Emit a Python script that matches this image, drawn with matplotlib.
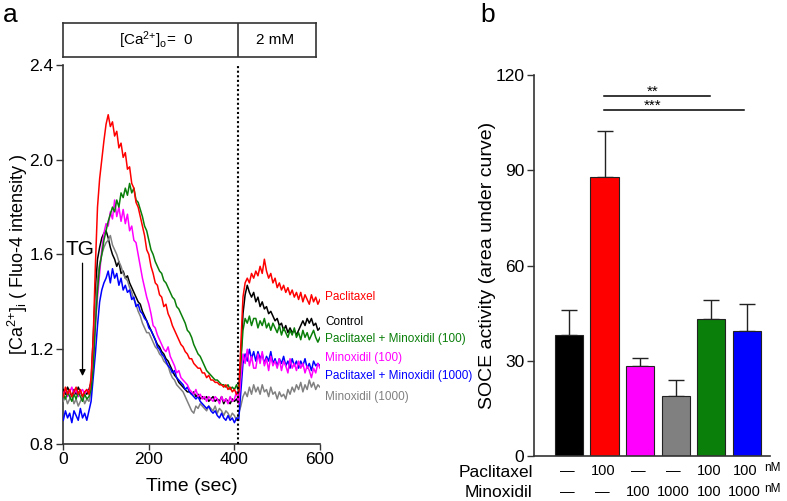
import numpy as np
import matplotlib
matplotlib.use("Agg")
import matplotlib.pyplot as plt
from matplotlib.transforms import blended_transform_factory

plt.rcParams['font.family'] = ['Liberation Sans', 'DejaVu Sans']
plt.rcParams['mathtext.fontset'] = 'custom'
plt.rcParams['mathtext.rm'] = 'Liberation Sans'
plt.rcParams['mathtext.it'] = 'Liberation Sans:italic'

# ---------------- Panel a data (time in sec, 5 s steps) ----------------
time_sec = np.arange(0, 601, 5)

paclitaxel = [
    1.00, 1.04, 1.01, 1.03, 1.00, 1.02, 1.04, 1.01, 1.03, 1.00,
    1.02, 1.03, 1.01, 1.08, 1.25, 1.55, 1.80, 1.92, 2.00, 2.08,
    2.15, 2.19, 2.14, 2.16, 2.10, 2.12, 2.05, 2.07, 2.01, 2.03,
    1.96, 1.97, 1.90, 1.88, 1.82, 1.80, 1.76, 1.72, 1.68, 1.62,
    1.60, 1.55, 1.52, 1.48, 1.47, 1.43, 1.42, 1.38, 1.39, 1.35,
    1.33, 1.30, 1.28, 1.26, 1.24, 1.22, 1.21, 1.19, 1.18, 1.16,
    1.16, 1.14, 1.13, 1.12, 1.12, 1.10, 1.10, 1.08, 1.09, 1.07,
    1.07, 1.06, 1.06, 1.05, 1.05, 1.04, 1.05, 1.03, 1.04, 1.02,
    1.03, 1.01, 1.02, 1.22, 1.42, 1.48, 1.50, 1.48, 1.52, 1.50,
    1.53, 1.51, 1.55, 1.52, 1.58, 1.53, 1.50, 1.52, 1.48, 1.50,
    1.46, 1.48, 1.45, 1.47, 1.44, 1.46, 1.43, 1.45, 1.42, 1.44,
    1.41, 1.44, 1.40, 1.43, 1.41, 1.39, 1.43, 1.40, 1.42, 1.39,
    1.41]

pac_minox100 = [
    1.01, 0.99, 1.02, 1.00, 0.98, 1.01, 0.99, 1.02, 1.00, 0.98,
    1.01, 0.99, 1.00, 1.03, 1.12, 1.30, 1.45, 1.55, 1.60, 1.66,
    1.70, 1.74, 1.77, 1.80, 1.78, 1.83, 1.80, 1.86, 1.84, 1.88,
    1.85, 1.90, 1.86, 1.88, 1.83, 1.82, 1.79, 1.76, 1.72, 1.70,
    1.66, 1.62, 1.60, 1.57, 1.55, 1.53, 1.52, 1.49, 1.48, 1.46,
    1.44, 1.42, 1.41, 1.38, 1.37, 1.35, 1.33, 1.31, 1.28, 1.27,
    1.25, 1.22, 1.20, 1.18, 1.17, 1.15, 1.13, 1.11, 1.10, 1.09,
    1.08, 1.07, 1.07, 1.06, 1.05, 1.05, 1.04, 1.05, 1.03, 1.04,
    1.03, 1.05, 1.02, 1.15, 1.28, 1.33, 1.31, 1.34, 1.30, 1.33,
    1.33, 1.29, 1.32, 1.30, 1.33, 1.29, 1.31, 1.28, 1.31, 1.29,
    1.27, 1.30, 1.26, 1.29, 1.27, 1.25, 1.28, 1.26, 1.29, 1.25,
    1.27, 1.24, 1.28, 1.25, 1.27, 1.24, 1.26, 1.28, 1.25, 1.23,
    1.25]

minox100 = [
    1.01, 1.03, 1.00, 1.02, 1.04, 1.01, 1.03, 1.00, 1.02, 1.03,
    1.01, 1.03, 1.02, 1.05, 1.15, 1.30, 1.42, 1.52, 1.62, 1.69,
    1.73, 1.72, 1.78, 1.75, 1.83, 1.76, 1.80, 1.74, 1.79, 1.73,
    1.77, 1.70, 1.72, 1.66, 1.65, 1.60, 1.55, 1.50, 1.46, 1.42,
    1.39, 1.35, 1.30, 1.29, 1.26, 1.24, 1.22, 1.20, 1.19, 1.21,
    1.17, 1.15, 1.13, 1.10, 1.11, 1.08, 1.07, 1.06, 1.05, 1.03,
    1.02, 1.01, 1.03, 1.00, 1.01, 0.99, 1.00, 0.98, 1.00, 0.99,
    0.98, 1.00, 0.99, 0.97, 1.00, 0.98, 0.99, 0.97, 1.00, 0.98,
    0.99, 1.02, 0.97, 1.08, 1.18, 1.14, 1.20, 1.13, 1.17, 1.12,
    1.12, 1.18, 1.14, 1.19, 1.13, 1.16, 1.11, 1.17, 1.13, 1.15,
    1.12, 1.16, 1.11, 1.15, 1.13, 1.10, 1.16, 1.12, 1.14, 1.11,
    1.15, 1.12, 1.14, 1.10, 1.13, 1.11, 1.08, 1.12, 1.10, 1.14,
    1.12]

control = [
    1.03, 1.01, 1.04, 1.02, 1.00, 1.03, 1.01, 1.04, 1.02, 1.00,
    1.02, 1.01, 1.03, 1.06, 1.25, 1.45, 1.58, 1.63, 1.67, 1.69,
    1.70, 1.67, 1.63, 1.60, 1.58, 1.55, 1.57, 1.52, 1.53, 1.50,
    1.51, 1.48, 1.46, 1.44, 1.42, 1.40, 1.39, 1.36, 1.34, 1.32,
    1.30, 1.28, 1.26, 1.24, 1.22, 1.21, 1.19, 1.18, 1.16, 1.15,
    1.13, 1.11, 1.09, 1.08, 1.06, 1.05, 1.04, 1.03, 1.02, 1.02,
    1.01, 1.02, 1.00, 1.01, 0.99, 1.00, 0.99, 1.00, 0.98, 0.99,
    1.00, 0.98, 0.99, 0.98, 1.00, 0.97, 0.99, 0.98, 0.97, 0.99,
    0.98, 0.99, 0.97, 1.15, 1.35, 1.43, 1.47, 1.44, 1.42, 1.44,
    1.40, 1.42, 1.38, 1.40, 1.37, 1.38, 1.35, 1.36, 1.34, 1.32,
    1.33, 1.30, 1.31, 1.28, 1.30, 1.27, 1.29, 1.27, 1.28, 1.26,
    1.28, 1.30, 1.32, 1.30, 1.33, 1.31, 1.33, 1.30, 1.31, 1.28,
    1.29]

minox1000 = [
    0.98, 1.00, 0.97, 0.99, 1.01, 0.97, 0.99, 0.96, 0.98, 1.00,
    0.97, 0.99, 0.98, 1.02, 1.18, 1.38, 1.50, 1.56, 1.60, 1.63,
    1.65, 1.66, 1.68, 1.64, 1.62, 1.60, 1.57, 1.55, 1.52, 1.50,
    1.49, 1.46, 1.44, 1.41, 1.39, 1.36, 1.34, 1.31, 1.29, 1.27,
    1.27, 1.25, 1.23, 1.21, 1.20, 1.18, 1.17, 1.15, 1.14, 1.13,
    1.10, 1.08, 1.07, 1.05, 1.04, 1.03, 1.02, 1.00, 0.98, 0.96,
    0.94, 0.93, 0.96, 0.95, 0.97, 0.96, 0.95, 0.94, 0.96, 0.95,
    0.94, 0.96, 0.93, 0.95, 0.94, 0.92, 0.94, 0.93, 0.91, 0.93,
    0.92, 0.90, 0.93, 0.96, 1.00, 1.02, 1.00, 1.04, 1.01, 1.05,
    1.02, 1.04, 1.01, 1.05, 1.02, 1.03, 1.00, 1.04, 1.01, 1.02,
    0.99, 1.02, 1.00, 1.01, 0.99, 1.03, 1.01, 1.04, 1.02, 1.05,
    1.03, 1.06, 1.02, 1.05, 1.03, 1.07, 1.04, 1.06, 1.03, 1.05,
    1.04]

pac_minox1000 = [
    0.90, 0.94, 0.91, 0.93, 0.89, 0.94, 0.92, 0.90, 0.95, 0.91,
    0.93, 0.90, 0.94, 0.98, 1.08, 1.18, 1.30, 1.40, 1.45, 1.48,
    1.50, 1.53, 1.48, 1.54, 1.50, 1.52, 1.47, 1.50, 1.45, 1.47,
    1.44, 1.45, 1.41, 1.42, 1.38, 1.39, 1.36, 1.35, 1.33, 1.32,
    1.29, 1.28, 1.26, 1.24, 1.21, 1.20, 1.18, 1.17, 1.15, 1.13,
    1.12, 1.10, 1.11, 1.08, 1.07, 1.06, 1.05, 1.03, 1.04, 1.02,
    1.01, 1.00, 0.99, 1.00, 0.98, 0.97, 0.96, 0.95, 0.96, 0.94,
    0.93, 0.94, 0.92, 0.91, 0.93, 0.91, 0.90, 0.92, 0.90, 0.91,
    0.89, 0.91, 0.90, 1.02, 1.14, 1.18, 1.15, 1.20, 1.16, 1.19,
    1.15, 1.19, 1.16, 1.18, 1.14, 1.17, 1.15, 1.19, 1.14, 1.16,
    1.13, 1.16, 1.14, 1.17, 1.13, 1.15, 1.12, 1.16, 1.13, 1.15,
    1.12, 1.15, 1.13, 1.16, 1.12, 1.14, 1.11, 1.15, 1.13, 1.14,
    1.13]

trace_names = ["Paclitaxel", "Control", "Paclitaxel + Minoxidil (100)",
               "Minoxidil (100)", "Paclitaxel + Minoxidil (1000)", "Minoxidil (1000)"]
trace_label_y = [1.42, 1.315, 1.245, 1.163, 1.087, 0.998]
switch_time = 408

# ---------------- Panel b data ----------------
bar_means = [38.0, 88.0, 28.5, 18.8, 43.0, 39.5]
bar_err = [8.0, 14.5, 2.5, 5.0, 6.0, 8.5]
pac_row = ["\u2014", "100", "\u2014", "\u2014", "100", "100"]
minox_row = ["\u2014", "\u2014", "100", "1000", "100", "1000"]

RED, BLACK, GREEN, MAG, BLUE, GRAY = "#ff0000", "#000000", "#0a7f0a", "#ff00ff", "#0000ff", "#808080"
bar_colors = [BLACK, RED, MAG, GRAY, GREEN, BLUE]

SP = "#333333"

fig = plt.figure(figsize=(7.87, 5.01), dpi=100)

# ---------- panel a ----------
ax = fig.add_axes([0.0804, 0.1138, 0.3262, 0.7565])
series = [(paclitaxel, RED), (control, BLACK), (pac_minox100, GREEN),
          (minox100, MAG), (pac_minox1000, BLUE), (minox1000, GRAY)]
draw_order = [1, 5, 4, 3, 2, 0]
for i in draw_order:
    vals, col = series[i]
    ax.plot(time_sec, vals, color=col, lw=1.1, zorder=3)
for (vals, col), name, ly in zip(series, trace_names, trace_label_y):
    ax.text(612, ly, name, color=col, fontsize=8.5, va='center', ha='left', clip_on=False)

ax.axvline(switch_time, color='black', ls=(0, (1, 1.2)), lw=1.5, zorder=4)
ax.set_xlim(0, 600)
ax.set_ylim(0.8, 2.4)
ax.set_xticks([0, 200, 400, 600])
ax.set_yticks([0.8, 1.2, 1.6, 2.0, 2.4])
ax.set_yticklabels(["0.8", "1.2", "1.6", "2.0", "2.4"])
for s in ['top', 'right']:
    ax.spines[s].set_visible(False)
for s in ['left', 'bottom']:
    ax.spines[s].set_color(SP)
    ax.spines[s].set_linewidth(1.2)
ax.tick_params(axis='both', direction='out', length=5, width=1.0, color=SP, labelsize=12.5, pad=2)
ax.tick_params(axis='x', length=4)
ax.set_xlabel("Time (sec)", fontsize=14)
ax.xaxis.set_label_coords(0.5, -0.111)
ax.xaxis.label.set_va('center')
ax.set_ylabel("[Ca$^{2{+}}$]$_\\mathrm{i}$ ( Fluo-4 intensity )", fontsize=13)
ax.yaxis.set_label_coords(-0.178, 0.5)
ax.yaxis.label.set_va('center')

# TG arrow
ax.annotate("", xy=(45, 1.075), xytext=(45, 1.575),
            arrowprops=dict(arrowstyle='-|>', color='black', lw=0.9, mutation_scale=9))
ax.text(39, 1.62, "TG", fontsize=15, ha='center', va='center')

# box on top
bx = fig.add_axes([0.0800, 0.8862, 0.3215, 0.0679])
bx.set_xlim(0, 1)
bx.set_ylim(0, 1)
bx.set_xticks([])
bx.set_yticks([])
for s in bx.spines.values():
    s.set_color(SP)
    s.set_linewidth(1.2)
bx.axvline(0.690, color=SP, lw=1.2)
bx.text(0.369, 0.5, "[Ca$^{2{+}}$]$_\\mathrm{o}$=  0", fontsize=11, ha='center', va='center')
bx.text(0.838, 0.5, "2 mM", fontsize=11, ha='center', va='center')

fig.text(10 / 787, 1 - 15 / 501, "a", fontsize=19, ha='center', va='center')
fig.text(488 / 787, 1 - 15 / 501, "b", fontsize=19, ha='center', va='center')

# ---------- panel b ----------
bxb = fig.add_axes([0.6785, 0.0898, 0.2999, 0.7605])
xpos = np.arange(len(bar_means))
bxb.bar(xpos, bar_means, width=0.79, color=bar_colors, edgecolor='#222222', linewidth=0.8, zorder=2)
bxb.errorbar(xpos, bar_means, yerr=[np.zeros(len(bar_err)), bar_err], fmt='none',
             ecolor='#222222', elinewidth=1.0, capsize=5.8, capthick=1.0, zorder=1)
bxb.set_xlim(-0.986, 5.66)
bxb.set_ylim(0, 120)
bxb.set_yticks([0, 30, 60, 90, 120])
bxb.set_xticks([])
for s in ['top', 'right']:
    bxb.spines[s].set_visible(False)
for s in ['left', 'bottom']:
    bxb.spines[s].set_color(SP)
    bxb.spines[s].set_linewidth(1.2)
bxb.tick_params(axis='y', direction='out', length=5, width=1.0, color=SP, labelsize=12.5, pad=2)
bxb.set_ylabel("SOCE activity (area under curve)", fontsize=14)
bxb.yaxis.set_label_coords(-0.195, 0.5)
bxb.yaxis.label.set_va('center')

# significance
bxb.plot([0.99, 3.97], [113.4, 113.4], color='black', lw=1.1, clip_on=False)
bxb.plot([0.99, 4.93], [109.0, 109.0], color='black', lw=1.1, clip_on=False)
bxb.text(2.35, 113.6, "**", fontsize=11, ha='center', va='baseline')
bxb.text(2.35, 109.2, "***", fontsize=11, ha='center', va='baseline')

# treatment table
tr = blended_transform_factory(bxb.transData, bxb.transAxes)
bxb.text(-0.005, -0.042, "Paclitaxel", transform=bxb.transAxes, fontsize=12.5,
         ha='right', va='center', clip_on=False)
bxb.text(-0.005, -0.0965, "Minoxidil", transform=bxb.transAxes, fontsize=12.5,
         ha='right', va='center', clip_on=False)
for x, p, m in zip(xpos, pac_row, minox_row):
    bxb.text(x - 0.05, -0.040, p, transform=tr, fontsize=10.5, ha='center', va='center', clip_on=False)
    bxb.text(x - 0.05, -0.0955, m, transform=tr, fontsize=10.5, ha='center', va='center', clip_on=False)
bxb.text(5.72, -0.031, "nM", transform=tr, fontsize=8.5, ha='center', va='center', clip_on=False)
bxb.text(5.72, -0.087, "nM", transform=tr, fontsize=8.5, ha='center', va='center', clip_on=False)

fig.savefig("out.png", dpi=100)
